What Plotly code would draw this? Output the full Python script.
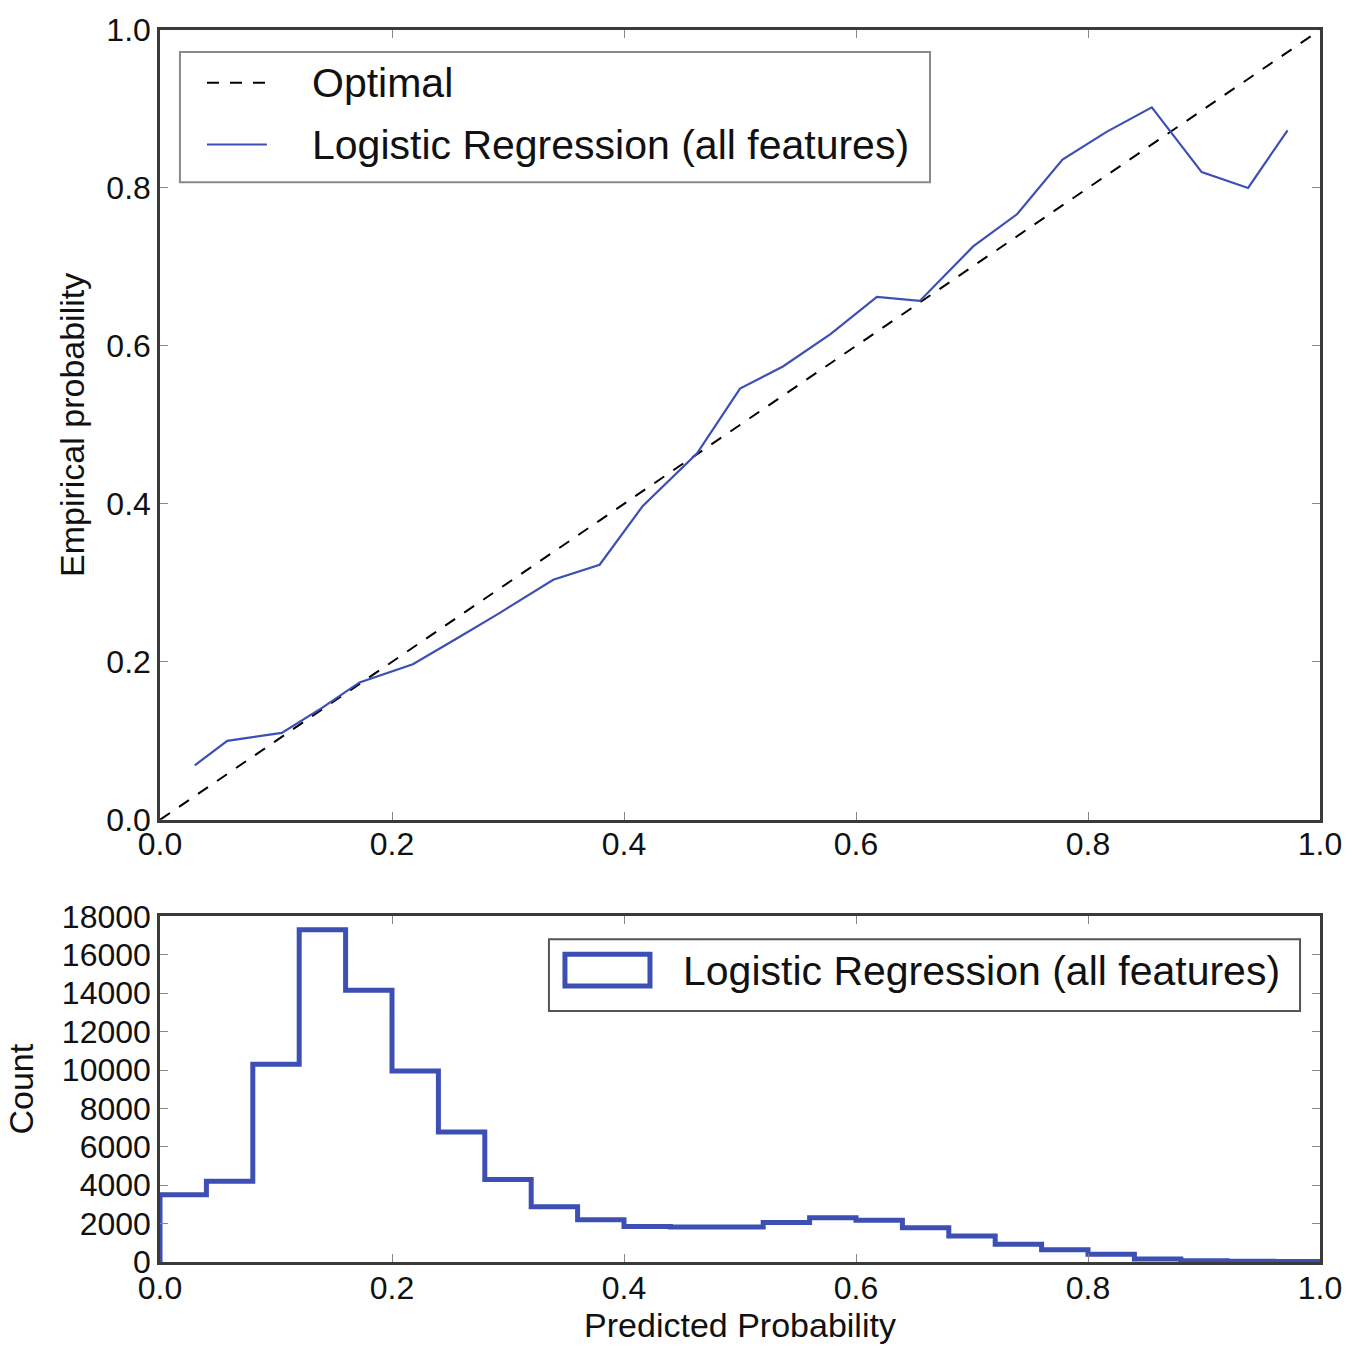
import plotly.graph_objects as go

# Calibration curve: mean predicted probability per bin vs observed frequency
pred_prob = [0.030, 0.058, 0.105, 0.140, 0.172, 0.218, 0.254, 0.293, 0.339, 0.379,
             0.416, 0.463, 0.500, 0.537, 0.578, 0.618, 0.655, 0.701, 0.739, 0.778,
             0.816, 0.855, 0.898, 0.938, 0.972]
empirical_prob = [0.069, 0.100, 0.110, 0.142, 0.174, 0.197, 0.228, 0.262, 0.304, 0.323,
                  0.397, 0.464, 0.546, 0.574, 0.615, 0.662, 0.657, 0.726, 0.767, 0.836,
                  0.871, 0.902, 0.820, 0.800, 0.873]

# Perfectly calibrated reference
optimal_x = [0.0, 1.0]
optimal_y = [0.0, 1.0]

# Histogram of predicted probabilities (25 bins of width 0.04)
bin_edges = [round(i * 0.04, 2) for i in range(26)]
bin_counts = [3500, 4200, 10300, 17300, 14150, 9950, 6770, 4300, 2880, 2200,
              1850, 1820, 1820, 2060, 2300, 2180, 1780, 1360, 930, 640,
              410, 160, 70, 40, 30]

y_ticks = [0.0, 0.2, 0.4, 0.6, 0.8, 1.0]
count_ticks = list(range(0, 18001, 2000))

BLUE = "#3d4fb4"
FONT = "Liberation Sans, Arial, sans-serif"
TEXT = "#111111"
AXIS = "#3a3a3a"

# Step outline: start at the baseline, walk across the bin tops, finish at the last edge
step_x = [bin_edges[0]] + bin_edges
step_y = [0] + bin_counts + [bin_counts[-1]]

fig = go.Figure()

fig.add_trace(go.Scatter(
    x=optimal_x, y=optimal_y, mode="lines",
    line=dict(color="black", width=2, dash="12px,11px"),
    xaxis="x", yaxis="y", showlegend=False, hoverinfo="skip"))

fig.add_trace(go.Scatter(
    x=pred_prob, y=empirical_prob, mode="lines",
    line=dict(color=BLUE, width=2.2),
    xaxis="x", yaxis="y", showlegend=False))

fig.add_trace(go.Scatter(
    x=step_x, y=step_y, mode="lines", line_shape="hv",
    line=dict(color=BLUE, width=5),
    xaxis="x2", yaxis="y2", showlegend=False, cliponaxis=False))

axis_common = dict(
    showgrid=False, zeroline=False, showline=True, mirror="allticks",
    linecolor=AXIS, linewidth=2.5, ticks="inside", ticklen=8, tickwidth=1,
    tickcolor="#888888",
    tickfont=dict(family=FONT, size=32, color=TEXT),
)

top_domain = [(1262 - 818) / 1237, 1.0]
bottom_domain = [0.0, (1262 - 915) / 1237]

fig.update_layout(
    width=1363, height=1353,
    margin=dict(l=160, r=43, t=25, b=91),
    paper_bgcolor="white", plot_bgcolor="white",
    font=dict(family=FONT, color=TEXT),
    showlegend=False,
    xaxis=dict(axis_common, domain=[0, 1], anchor="y", range=[0, 1],
               tickvals=y_ticks, tickformat=".1f", ticklabelstandoff=-6),
    yaxis=dict(axis_common, domain=top_domain, anchor="x", range=[0, 1],
               tickvals=y_ticks, tickformat=".1f",
               title=dict(text="Empirical probability",
                          font=dict(family=FONT, size=34, color=TEXT), standoff=12)),
    xaxis2=dict(axis_common, domain=[0, 1], anchor="y2", range=[0, 1],
                tickvals=y_ticks, tickformat=".1f", ticklabelstandoff=-4,
                title=dict(text="Predicted Probability",
                           font=dict(family=FONT, size=34, color=TEXT), standoff=6)),
    yaxis2=dict(axis_common, domain=bottom_domain, anchor="x2", range=[0, 18000],
                tickvals=count_ticks, tickformat="d",
                title=dict(text="Count",
                           font=dict(family=FONT, size=34, color=TEXT), standoff=18)),
)

# Legend for the calibration panel
fig.add_shape(type="rect", xref="x domain", yref="y domain",
              x0=0.0172, x1=0.6638, y0=0.8071, y1=0.9723,
              line=dict(color="#8a8a8a", width=2), fillcolor="white", layer="above")
fig.add_shape(type="line", xref="x domain", yref="y domain",
              x0=0.0405, x1=0.0922, y0=0.9332, y1=0.9332,
              line=dict(color="black", width=2, dash="12px,11px"), layer="above")
fig.add_shape(type="line", xref="x domain", yref="y domain",
              x0=0.0405, x1=0.0922, y0=0.855, y1=0.855,
              line=dict(color=BLUE, width=2.2), layer="above")
for label, yy in [("Optimal", 0.9332), ("Logistic Regression (all features)", 0.855)]:
    fig.add_annotation(text=label, xref="x domain", yref="y domain",
                       x=0.129, y=yy, xanchor="left", yanchor="middle",
                       showarrow=False, font=dict(family=FONT, size=41, color=TEXT))

# Legend for the histogram panel
fig.add_shape(type="rect", xref="x2 domain", yref="y2 domain",
              x0=0.3353, x1=0.9828, y0=0.7262, y1=0.9337,
              line=dict(color="#555555", width=2), fillcolor="white", layer="above")
fig.add_shape(type="rect", xref="x2 domain", yref="y2 domain",
              x0=0.3491, x1=0.4224, y0=0.7983, y1=0.8905,
              line=dict(color=BLUE, width=5), fillcolor="white", layer="above")
fig.add_annotation(text="Logistic Regression (all features)", xref="x2 domain", yref="y2 domain",
                   x=0.4490, y=0.8415, xanchor="left", yanchor="middle",
                   showarrow=False, font=dict(family=FONT, size=41, color=TEXT))

fig.write_html("out.html", config={"displayModeBar": False})
